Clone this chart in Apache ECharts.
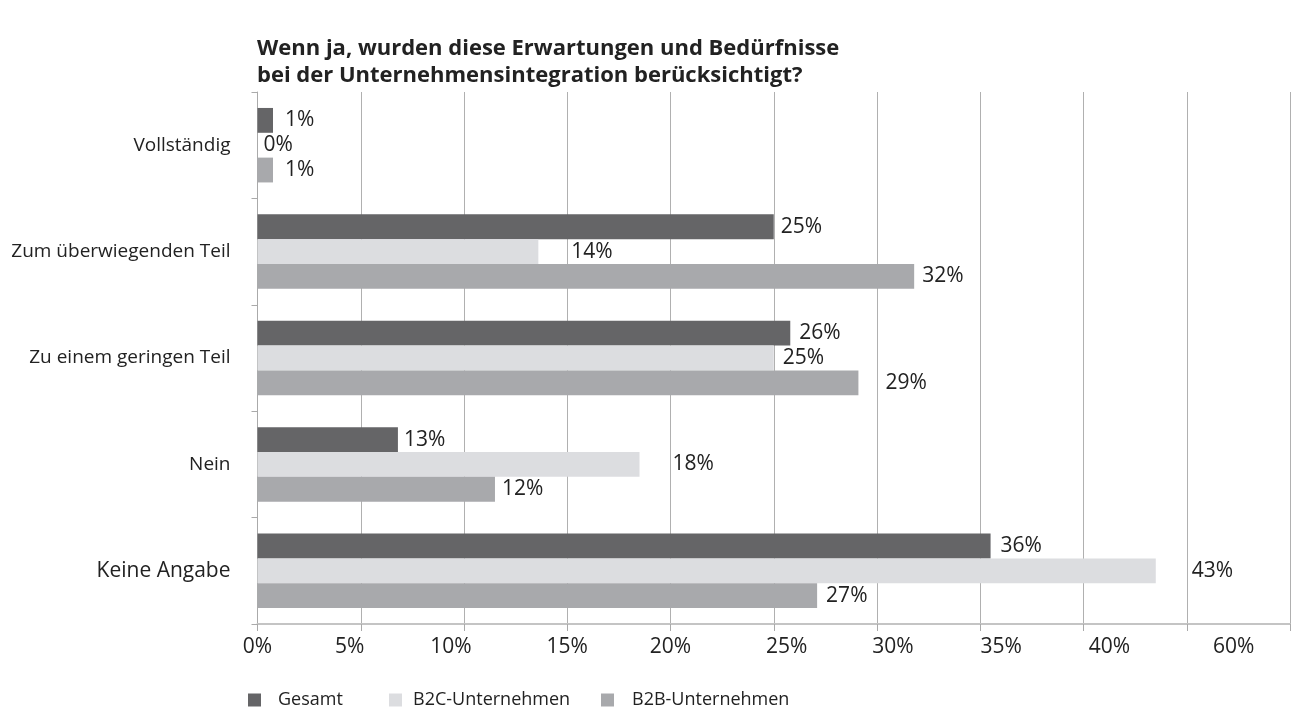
<!DOCTYPE html>
<html>
<head>
<meta charset="utf-8">
<script src="https://cdn.jsdelivr.net/npm/echarts@6/dist/echarts.min.js"></script>
<style>
html,body{margin:0;padding:0;background:#fff;}
#chart{width:1298px;height:708px;}
</style>
</head>
<body>
<div id="chart"></div>
<script>
// ---------- DATA ----------
const titleText = 'Wenn ja, wurden diese Erwartungen und Bedürfnisse\nbei der Unternehmensintegration berücksichtigt?';
const categories = ['Vollständig', 'Zum überwiegenden Teil', 'Zu einem geringen Teil', 'Nein', 'Keine Angabe'];
const seriesNames = ['Gesamt', 'B2C-Unternehmen', 'B2B-Unternehmen'];
const gesamt = [0.75, 25.0, 25.8, 6.8, 35.5];
const b2c = [0, 13.6, 25.0, 18.5, 43.5];
const b2b = [0.75, 31.8, 29.1, 11.5, 27.1];
const gesamtLabels = ['1%', '25%', '26%', '13%', '36%'];
const b2cLabels = ['0%', '14%', '25%', '18%', '43%'];
const b2bLabels = ['1%', '32%', '29%', '12%', '27%'];
const tickLabels = ['0%', '5%', '10%', '15%', '20%', '25%', '30%', '35%', '40%', '60%', ''];

// ---------- LAYOUT / STYLE ----------
const FONT = 'Open Sans';
const colors = ['#656567', '#dcdde0', '#a8a9ac'];
const labelGaps = [
  [12, 7, 9, 6, 10],
  [6, 33, 9, 33, 36],
  [12, 8, 27, 7, 9]
];
const tickShift = [0, -11, -13, 0, 0, 13, 16, 21, 26, 47, 0];
const catFont = [19, 19, 19, 19, 21];
const legendLeft = [248, 389, 601];
const legendTextPad = [12, 6, 13];

const xRich = {};
tickShift.forEach(function (d, i) {
  xRich['s' + i] = {
    fontFamily: FONT, fontSize: 21, color: '#222',
    padding: d >= 0 ? [0, 0, 0, 2 * d] : [0, -2 * d, 0, 0]
  };
});
const yRich = {};
catFont.forEach(function (f, i) {
  yRich['c' + i] = { fontFamily: FONT, fontSize: f, color: '#222' };
});

function buildData(values, labels, gaps) {
  return values.map(function (v, i) {
    return {
      value: v,
      label: { show: true, position: 'right', distance: gaps[i], formatter: labels[i] }
    };
  });
}

const valueSets = [gesamt, b2c, b2b];
const labelSets = [gesamtLabels, b2cLabels, b2bLabels];

const series = seriesNames.map(function (name, s) {
  return {
    name: name,
    type: 'bar',
    barGap: '0%',
    barCategoryGap: '30%',
    itemStyle: { color: colors[s] },
    label: { fontFamily: FONT, fontSize: 21, color: '#222' },
    data: buildData(valueSets[s], labelSets[s], labelGaps[s]),
    animation: false
  };
});

const legends = seriesNames.map(function (name, i) {
  return {
    data: [name],
    left: legendLeft[i],
    top: 691,
    padding: 0,
    itemWidth: 13,
    itemHeight: 13,
    icon: 'rect',
    textStyle: { fontFamily: FONT, fontSize: 18, color: '#222', padding: [0, 0, 0, legendTextPad[i]] },
    selectedMode: false
  };
});

const option = {
  backgroundColor: '#fff',
  animation: false,
  title: {
    text: titleText,
    left: 257,
    top: 35,
    padding: 0,
    textStyle: { fontFamily: FONT, fontSize: 22, fontWeight: 'bold', color: '#222', lineHeight: 27 }
  },
  legend: legends,
  grid: { left: 257.5, right: 8, top: 92, bottom: 84, containLabel: false },
  xAxis: {
    type: 'value',
    min: 0,
    max: 50,
    interval: 5,
    axisLine: { show: true, lineStyle: { color: '#c4c4c4', width: 2 } },
    axisTick: { show: true, length: 7, lineStyle: { color: '#aaaaaa' } },
    splitLine: { show: true, lineStyle: { color: '#b0b0b0', width: 1 } },
    axisLabel: {
      margin: 13,
      formatter: function (v) {
        const i = Math.round(v / 5);
        return '{s' + i + '|' + (tickLabels[i] || '') + '}';
      },
      rich: xRich
    }
  },
  yAxis: {
    type: 'category',
    inverse: true,
    data: categories,
    axisLine: { show: true, lineStyle: { color: '#aaaaaa' } },
    axisTick: { show: true, length: 6, lineStyle: { color: '#aaaaaa' } },
    axisLabel: {
      margin: 27,
      formatter: function (v, i) { return '{c' + i + '|' + v + '}'; },
      rich: yRich
    }
  },
  series: series
};

const chart = echarts.init(document.getElementById('chart'), null, { renderer: 'canvas' });
chart.setOption(option);
</script>
</body>
</html>
